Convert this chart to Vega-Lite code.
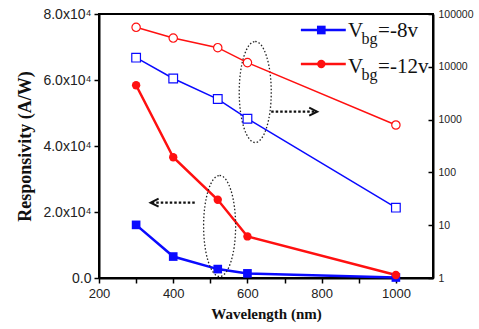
{
"$schema":"https://vega.github.io/schema/vega-lite/v6.json",
"width":334,"height":264,
"autosize":"none",
"padding":{"left":99,"top":14,"right":46,"bottom":51},
"background":"white",
"config":{
 "view":{"stroke":"black","strokeWidth":2},
 "axis":{"grid":false,"labelFlush":false,"domainColor":"black","domainWidth":2,"tickColor":"black","tickWidth":1.5,"labelFont":"Liberation Sans","labelColor":"#222","titleFont":"Liberation Serif","titleFontWeight":"bold","titleColor":"#111"}
},
"datasets":{
 "left":[{"x":300,"y":16100,"s":"-8"},{"x":400,"y":6500,"s":"-8"},{"x":520,"y":2700,"s":"-8"},{"x":600,"y":1400,"s":"-8"},{"x":1000,"y":150,"s":"-8"},
  {"x":300,"y":58400,"s":"-12"},{"x":400,"y":36600,"s":"-12"},{"x":520,"y":23700,"s":"-12"},{"x":600,"y":12600,"s":"-12"},{"x":1000,"y":900,"s":"-12"}],
 "right":[{"x":300,"y":14900,"s":"-8"},{"x":400,"y":6000,"s":"-8"},{"x":520,"y":2450,"s":"-8"},{"x":600,"y":1040,"s":"-8"},{"x":1000,"y":21.5,"s":"-8"},
  {"x":300,"y":56000,"s":"-12"},{"x":400,"y":35000,"s":"-12"},{"x":520,"y":23000,"s":"-12"},{"x":600,"y":12000,"s":"-12"},{"x":1000,"y":790,"s":"-12"}],
 "ellipses":[{"x":621,"y":56360},{"x":525,"y":15760}],
 "arrows":[{"x":664,"x2":786,"y":50400},{"x":458,"x2":341,"y":22820}],
 "headr":[{"x":788,"y":50400}],
 "headl":[{"x":339,"y":22820}],
 "legline":[{"x":744,"x2":865,"y":75150,"s":"-8"},{"x":744,"x2":865,"y":64850,"s":"-12"}],
 "legpt":[{"x":799,"y":75150,"s":"-8"},{"x":799,"y":64850,"s":"-12"}],
 "legbig":[{"x":871,"y":73030,"t":"V"},{"x":952,"y":73030,"t":"=-8v"},{"x":871,"y":62210,"t":"V"},{"x":952,"y":62210,"t":"=-12v"}],
 "legsmall":[{"x":907,"y":70910,"t":"bg"},{"x":907,"y":60150,"t":"bg"}]
},
"layer":[
 {"layer":[
  {"data":{"name":"left"},"mark":{"type":"line","strokeWidth":2.5},
   "encoding":{
    "x":{"field":"x","type":"quantitative","scale":{"domain":[200,1100],"nice":false},
      "axis":{"title":"Wavelength (nm)","titleFontSize":15,"values":[200,300,400,500,600,700,800,900,1000],"labelExpr":"datum.value % 200 == 0 ? datum.value : ''","labelFontSize":13,"tickSize":5,"labelPadding":4,"titlePadding":6}},
    "y":{"field":"y","type":"quantitative","scale":{"domain":[0,80000],"nice":false},
      "axis":{"title":"Responsivity (A/W)","titleFontSize":18,"values":[0,10000,20000,30000,40000,50000,60000,70000,80000],"labelExpr":"datum.value == 0 ? '0.0' : (datum.value % 20000 == 0 ? format(datum.value/10000,'.1f') + 'x10⁴' : '')","labelFontSize":14,"tickSize":5,"labelPadding":3,"titlePadding":8}},
    "color":{"field":"s","type":"nominal","scale":{"domain":["-8","-12"],"range":["#0a0aff","#ff1010"]},"legend":null}}},
  {"data":{"name":"left"},"mark":{"type":"point","filled":true,"opacity":1},
   "encoding":{
    "x":{"field":"x","type":"quantitative"},
    "y":{"field":"y","type":"quantitative"},
    "color":{"field":"s","type":"nominal","legend":null},
    "shape":{"field":"s","type":"nominal","scale":{"domain":["-8","-12"],"range":["square","circle"]},"legend":null},
    "size":{"field":"s","type":"nominal","scale":{"domain":["-8","-12"],"range":[75,70]},"legend":null}}},
  {"data":{"name":"ellipses"},"mark":{"type":"point","shape":"M0,-1A0.317,1,0,1,1,0,1A0.317,1,0,1,1,0,-1Z","size":10201,"filled":false,"stroke":"#222","strokeWidth":1.3,"strokeDash":[1.5,2],"opacity":1},
   "encoding":{"x":{"field":"x","type":"quantitative"},"y":{"field":"y","type":"quantitative"}}},
  {"data":{"name":"arrows"},"mark":{"type":"rule","strokeDash":[2.5,2],"strokeWidth":2.2,"color":"#111"},
   "encoding":{"x":{"field":"x","type":"quantitative"},"x2":{"field":"x2"},"y":{"field":"y","type":"quantitative"}}},
  {"data":{"name":"headr"},"mark":{"type":"point","shape":"M-2,-1L0,0L-2,1","filled":false,"stroke":"#111","strokeWidth":2,"size":64,"opacity":1},
   "encoding":{"x":{"field":"x","type":"quantitative"},"y":{"field":"y","type":"quantitative"}}},
  {"data":{"name":"headl"},"mark":{"type":"point","shape":"M2,-1L0,0L2,1","filled":false,"stroke":"#111","strokeWidth":2,"size":64,"opacity":1},
   "encoding":{"x":{"field":"x","type":"quantitative"},"y":{"field":"y","type":"quantitative"}}},
  {"data":{"name":"legline"},"mark":{"type":"rule","strokeWidth":2.5},
   "encoding":{"x":{"field":"x","type":"quantitative"},"x2":{"field":"x2"},"y":{"field":"y","type":"quantitative"},
    "color":{"field":"s","type":"nominal","legend":null}}},
  {"data":{"name":"legpt"},"mark":{"type":"point","filled":true,"opacity":1},
   "encoding":{"x":{"field":"x","type":"quantitative"},"y":{"field":"y","type":"quantitative"},
    "color":{"field":"s","type":"nominal","legend":null},
    "shape":{"field":"s","type":"nominal","legend":null},
    "size":{"field":"s","type":"nominal","legend":null}}},
  {"data":{"name":"legbig"},"mark":{"type":"text","font":"Liberation Serif","fontSize":21,"align":"left","baseline":"alphabetic","color":"#111"},
   "encoding":{"x":{"field":"x","type":"quantitative"},"y":{"field":"y","type":"quantitative"},"text":{"field":"t"}}},
  {"data":{"name":"legsmall"},"mark":{"type":"text","font":"Liberation Serif","fontSize":16,"align":"left","baseline":"alphabetic","color":"#111"},
   "encoding":{"x":{"field":"x","type":"quantitative"},"y":{"field":"y","type":"quantitative"},"text":{"field":"t"}}}
 ]},
 {"layer":[
  {"data":{"name":"right"},"mark":{"type":"line","strokeWidth":1.5},
   "encoding":{
    "x":{"field":"x","type":"quantitative"},
    "y":{"field":"y","type":"quantitative","scale":{"type":"log","domain":[1,100000],"nice":false},
      "axis":{"orient":"right","title":null,"values":[1,10,100,1000,10000,100000],"labelExpr":"format(datum.value,'d')","labelFontSize":10.5,"tickSize":-5,"labelPadding":10}},
    "color":{"field":"s","type":"nominal","scale":{"domain":["-8","-12"],"range":["#2020ff","#ff1a1a"]},"legend":null}}},
  {"data":{"name":"right"},"mark":{"type":"point","filled":false,"fill":"white","strokeWidth":1.2,"opacity":1},
   "encoding":{
    "x":{"field":"x","type":"quantitative"},
    "y":{"field":"y","type":"quantitative"},
    "color":{"field":"s","type":"nominal","legend":null},
    "shape":{"field":"s","type":"nominal","scale":{"domain":["-8","-12"],"range":["square","circle"]},"legend":null},
    "size":{"field":"s","type":"nominal","scale":{"domain":["-8","-12"],"range":[40,36]},"legend":null}}}
 ]}
],
"resolve":{"scale":{"y":"independent"},"axis":{"y":"independent"}}
}
